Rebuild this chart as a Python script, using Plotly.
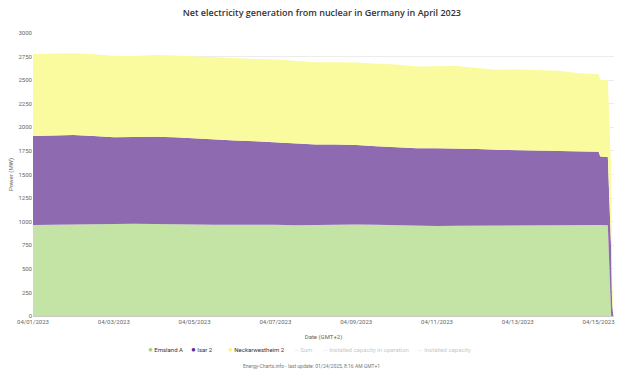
import plotly.graph_objects as go

# ---- data ----
times = [
    "2023-04-01 00:00", "2023-04-01 12:00", "2023-04-02 00:00", "2023-04-02 12:00",
    "2023-04-03 00:00", "2023-04-03 12:00", "2023-04-04 00:00", "2023-04-04 12:00",
    "2023-04-05 00:00", "2023-04-05 12:00", "2023-04-06 00:00", "2023-04-06 12:00",
    "2023-04-07 00:00", "2023-04-07 12:00", "2023-04-08 00:00", "2023-04-08 12:00",
    "2023-04-09 00:00", "2023-04-09 12:00", "2023-04-10 00:00", "2023-04-10 12:00",
    "2023-04-11 00:00", "2023-04-11 12:00", "2023-04-12 00:00", "2023-04-12 12:00",
    "2023-04-13 00:00", "2023-04-13 12:00", "2023-04-14 00:00", "2023-04-14 12:00",
    "2023-04-15 00:00", "2023-04-15 01:00", "2023-04-15 05:30", "2023-04-15 07:30",
    "2023-04-15 08:00", "2023-04-15 08:45",
]
emsland_a = [965, 968, 972, 970, 975, 978, 974, 970, 968, 966, 968, 970, 966, 963,
             966, 972, 970, 968, 962, 956, 955, 958, 960, 962, 964, 966, 966, 964,
             965, 965, 963, 0, 0, 0]
isar_2 = [944, 946, 947, 938, 920, 920, 927, 924, 912, 900, 892, 882, 874, 861,
          852, 846, 844, 832, 823, 822, 823, 820, 810, 800, 794, 789, 787, 784,
          777, 727, 722, 700, 150, 0]
neckarwestheim_2 = [869, 868, 867, 867, 865, 858, 865, 868, 871, 874, 871, 873, 878, 881,
                    872, 872, 874, 875, 880, 868, 870, 873, 858, 848, 856, 855, 848, 826,
                    821, 813, 818, 800, 300, 0]

tick_vals = ["2023-04-01", "2023-04-03", "2023-04-05", "2023-04-07",
             "2023-04-09", "2023-04-11", "2023-04-13", "2023-04-15"]
tick_text = ["04/01/2023", "04/03/2023", "04/05/2023", "04/07/2023",
             "04/09/2023", "04/11/2023", "04/13/2023", "04/15/2023"]
y_ticks = list(range(0, 3001, 250))

series_names = ["Emsland A", "Isar 2", "Neckarwestheim 2"]
series_values = [emsland_a, isar_2, neckarwestheim_2]
fill_colors = ["rgb(196,228,166)", "rgb(142,106,177)", "rgb(250,250,158)"]
legend_colors = ["rgb(160,210,125)", "rgb(92,45,145)", "rgb(246,246,130)"]
hidden_names = ["Sum", "Installed capacity in operation", "Installed capacity"]

PLOT_L, PLOT_R, PLOT_T, PLOT_B = 33, 614, 33, 316
W, H = 619, 378

fig = go.Figure()
for name, vals, fillc in zip(series_names, series_values, fill_colors):
    fig.add_trace(go.Scatter(
        x=times, y=vals, name=name, stackgroup="one", mode="lines",
        line=dict(width=0, color=fillc), fillcolor=fillc, showlegend=False,
    ))


def px_x(px):
    return (px - PLOT_L) / (PLOT_R - PLOT_L)


def px_y(py):
    return (PLOT_B - py) / (PLOT_B - PLOT_T)


# legend row (compact, as in the reference)
legend_y = px_y(349)
legend_items = []
legend_x = [146, 189, 226]
for name, col, x0 in zip(series_names, legend_colors, legend_x):
    legend_items.append(dict(
        text=f'<span style="color:{col};font-size:8px">●</span> {name}',
        x=px_x(x0), font=dict(size=6, color="#333333")))
for name, x0 in zip(hidden_names, [292, 321, 416]):
    legend_items.append(dict(
        text=f'<span style="color:#dddddd">—</span> {name}',
        x=px_x(x0), font=dict(size=6, color="#c8c8c8")))

annotations = []
for it in legend_items:
    annotations.append(dict(
        text=it["text"], xref="paper", yref="paper", x=it["x"], y=legend_y,
        xanchor="left", yanchor="middle", showarrow=False, font=it["font"]))
annotations.append(dict(
    text="Energy-Charts.info - last update: 01/24/2025, 8:16 AM GMT+1",
    xref="paper", yref="paper", x=px_x(311), y=px_y(366), xanchor="center",
    yanchor="middle", showarrow=False, font=dict(size=5, color="#777777")))

fig.update_layout(
    width=W, height=H,
    margin=dict(l=PLOT_L, r=W - PLOT_R, t=PLOT_T, b=H - PLOT_B),
    paper_bgcolor="white", plot_bgcolor="white",
    font=dict(family="Roboto, sans-serif", size=6, color="#666666"),
    showlegend=False,
    title=dict(
        text="Net electricity generation from nuclear in Germany in April 2023",
        x=0.52, xanchor="center", y=1 - 13 / H, yanchor="middle", yref="container",
        font=dict(family="Open Sans, sans-serif", size=9, color="#333333", weight=600),
    ),
    xaxis=dict(
        type="date",
        range=["2023-04-01 00:00", "2023-04-15 09:10"],
        tickvals=tick_vals, ticktext=tick_text,
        showgrid=False, showline=True, linecolor="#c8c8c8", linewidth=1,
        ticks="", tickfont=dict(size=6, color="#666666"), ticklabeloverflow="allow",
        title=dict(text="Date (GMT+2)", font=dict(size=6, color="#666666"), standoff=10),
        zeroline=False, automargin=False,
    ),
    yaxis=dict(
        range=[0, 3000], tickvals=y_ticks,
        showgrid=True, gridcolor="#ececec", gridwidth=1,
        zeroline=False, showline=False,
        tickfont=dict(size=6, color="#666666"),
        title=dict(text="Power (MW)", font=dict(size=6, color="#666666"), standoff=4),
        automargin=False,
    ),
    annotations=annotations,
)

fig.write_html(
    "out.html",
    config={"displayModeBar": False},
    post_script="document.body.style.margin='0';document.body.style.padding='0';"
                "document.body.style.overflow='hidden';",
)
